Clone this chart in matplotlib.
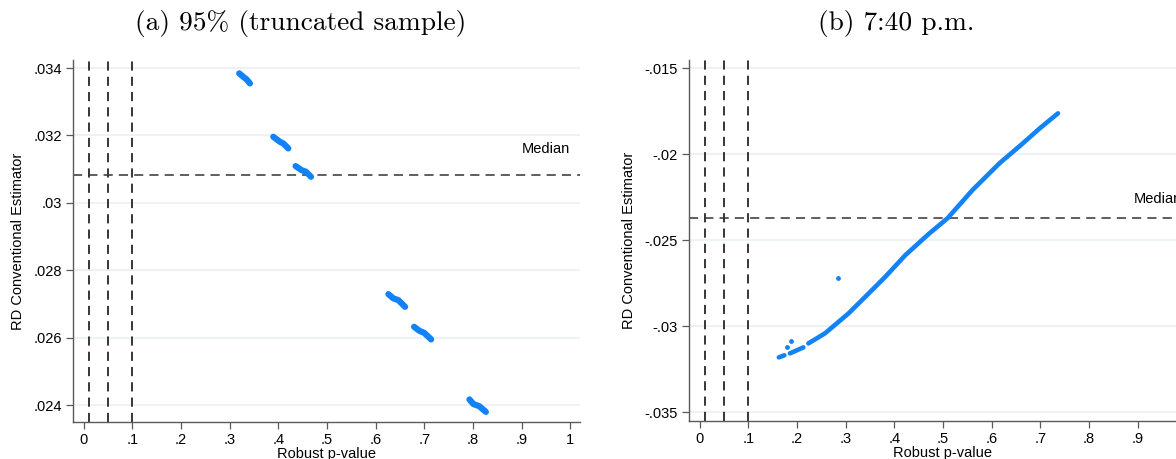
import numpy as np
import matplotlib
matplotlib.use('Agg')
import matplotlib.pyplot as plt

plt.rcParams['font.family'] = ['Liberation Sans', 'DejaVu Sans']

# ---- panel (a): 95% truncated sample, clusters of (p-value, estimate) ----
clusters_a = [
    ([0.3196, 0.3278, 0.3347, 0.3416], [0.033843, 0.033742, 0.033664, 0.033545]),
    ([0.3896, 0.4033, 0.4101, 0.4204], [0.031962, 0.031813, 0.031765, 0.031617]),
    ([0.4354, 0.4477, 0.4568, 0.4671], [0.031092, 0.030973, 0.030923, 0.030775]),
    ([0.6262, 0.6365, 0.6467, 0.6605], [0.027294, 0.027166, 0.027116, 0.026917]),
    ([0.6790, 0.6900, 0.6996, 0.7140], [0.026324, 0.026205, 0.026146, 0.025951]),
    ([0.7928, 0.8011, 0.8128, 0.8265], [0.024169, 0.024030, 0.023970, 0.023801]),
]
median_a = 0.030825
yticks_a = [0.024, 0.026, 0.028, 0.030, 0.032, 0.034]
yticklabels_a = ['.024', '.026', '.028', '.03', '.032', '.034']

# ---- panel (b): 7:40 p.m. (nan = gap in the point cloud) ----
curve_b_p = [0.1626, 0.1740, np.nan, 0.1853, 0.2130, np.nan,
             0.2233, 0.2576, 0.3060, 0.3473, 0.3816, 0.4229, 0.4713, 0.5091,
             0.5607, 0.6159, 0.6640, 0.6986, 0.7364]
curve_b_est = [-0.03182, -0.03170, np.nan, -0.03159, -0.03124, np.nan,
               -0.03101, -0.03042, -0.02926, -0.02810, -0.02713, -0.02587, -0.02463, -0.02374,
               -0.02209, -0.02054, -0.01938, -0.01851, -0.01763]
outliers_b_p = [0.1785, 0.1868, 0.2839]
outliers_b_est = [-0.03124, -0.03085, -0.02723]
median_b = -0.02372
yticks_b = [-0.035, -0.030, -0.025, -0.020, -0.015]
yticklabels_b = ['-.035', '-.03', '-.025', '-.02', '-.015']

xticks = [0, 0.1, 0.2, 0.3, 0.4, 0.5, 0.6, 0.7, 0.8, 0.9, 1.0]
xticklabels = ['0', '.1', '.2', '.3', '.4', '.5', '.6', '.7', '.8', '.9', '1']
pcutoffs = [0.01, 0.05, 0.1]

BLUE = '#1183f7'
GRID = '#e8eff2'
SPINE = '#5a5a5a'

fig = plt.figure(figsize=(11.76, 4.59), dpi=100)
ax_a = fig.add_axes([0.0621, 0.0806, 0.4311, 0.7887])
ax_b = fig.add_axes([0.5859, 0.0828, 0.4311, 0.7865])


def style_axes(ax, yticks, yticklabels, ylim):
    ax.set_xlim(-0.022, 1.02)
    ax.set_ylim(*ylim)
    ax.set_xticks(xticks)
    ax.set_xticklabels(xticklabels)
    ax.set_yticks(yticks)
    ax.set_yticklabels(yticklabels)
    for s in ['top', 'right']:
        ax.spines[s].set_visible(False)
    for s in ['left', 'bottom']:
        ax.spines[s].set_color(SPINE)
        ax.spines[s].set_linewidth(1.0)
    ax.tick_params(axis='both', direction='out', length=5, width=0.9,
                   color=SPINE, labelsize=10.5, pad=3)
    ax.yaxis.grid(True, color=GRID, linewidth=1.1)
    ax.set_axisbelow(True)
    ax.set_xlabel('Robust p-value', fontsize=10.5, labelpad=0)
    ax.set_ylabel('RD Conventional Estimator', fontsize=10.5, labelpad=6)
    for c in pcutoffs:
        ax.axvline(c, color='black', lw=1.1, ls=(0, (6, 4)), zorder=1)


style_axes(ax_a, yticks_a, yticklabels_a, (0.02350, 0.03424))
style_axes(ax_b, yticks_b, yticklabels_b, (-0.03552, -0.01453))

# panel (a)
ax_a.axhline(median_a, color='#333333', lw=1.1, ls=(0, (6, 4)), zorder=1)
for p, est in clusters_a:
    ax_a.plot(p, est, color=BLUE, lw=4.5, solid_capstyle='round',
              solid_joinstyle='round', zorder=3)
ax_a.annotate('Median', xy=(1.0, median_a), xytext=(0, 14),
              textcoords='offset points', ha='right', va='bottom', fontsize=10.5)

# panel (b)
ax_b.axhline(median_b, color='#333333', lw=1.1, ls=(0, (6, 4)), zorder=1)
ax_b.plot(curve_b_p, curve_b_est, color=BLUE, lw=3.3, solid_capstyle='round',
          solid_joinstyle='round', zorder=3)
ax_b.scatter(outliers_b_p, outliers_b_est, s=12, color=BLUE, linewidths=0, zorder=3)
ax_b.annotate('Median', xy=(0.893, median_b), xytext=(0, 9),
              textcoords='offset points', ha='left', va='bottom', fontsize=10.5,
              annotation_clip=False)

fig.text(0.256, 0.948, '(a) 95% (truncated sample)', family='cmr10',
         ha='center', va='center', fontsize=19.7)
fig.text(0.762, 0.948, '(b) 7:40 p.m.', family='cmr10',
         ha='center', va='center', fontsize=19.7)

fig.savefig('out.png', dpi=100)
